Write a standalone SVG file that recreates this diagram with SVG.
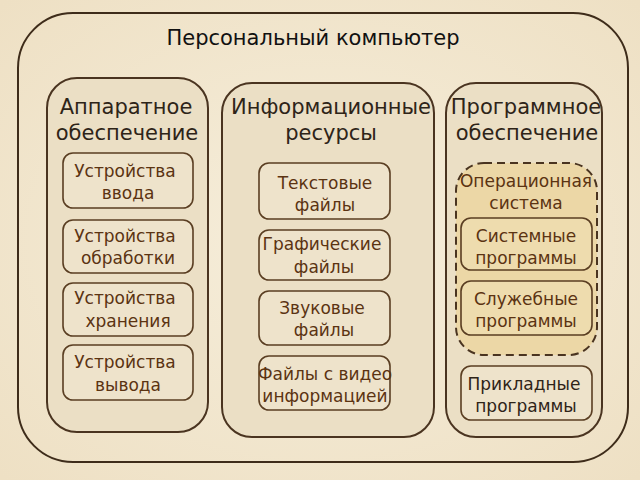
<svg xmlns="http://www.w3.org/2000/svg" width="640" height="480" viewBox="0 0 640 480">
<defs>
<radialGradient id="bg" cx="50%" cy="50%" r="70%">
<stop offset="0" stop-color="#f6eedb"/>
<stop offset="1" stop-color="#eee0c4"/>
</radialGradient>
<style>
.outer{fill:none;stroke:#3e2c1a;stroke-width:2}
.col{fill:#ebdfc5;stroke:#4a3420;stroke-width:2}
.box{fill:#eee3cb;stroke:#5a3e22;stroke-width:1.6}
.os{fill:#ecd7a6;stroke:#4a3420;stroke-width:2;stroke-dasharray:8,5}
.osbox{fill:#eedcae;stroke:#5a3e22;stroke-width:1.6}
.t{font-family:"DejaVu Sans","Noto Sans",sans-serif;text-anchor:middle}
.h{font-size:21px;fill:#2e2418}
.b{font-size:17px;fill:#5b3312}
</style>
</defs>
<rect width="640" height="480" fill="url(#bg)"/>
<g id="pc">
<rect class="outer" x="18" y="13" width="610" height="449" rx="55"/>
<text class="t" x="313" y="45" font-size="21" fill="#111">Персональный компьютер</text>
</g>
<g id="hardware">
<rect class="col" x="47" y="78" width="161" height="354" rx="30"/>
<text class="t h" x="126" y="114">Аппаратное</text>
<text class="t h" x="127" y="140">обеспечение</text>
</g>
<g id="info">
<rect class="col" x="222" y="83" width="212" height="354" rx="30"/>
<text class="t h" x="331" y="114">Информационные</text>
<text class="t h" x="331" y="140">ресурсы</text>
</g>
<g id="software">
<rect class="col" x="446" y="83" width="156" height="354" rx="30"/>
<text class="t h" x="526" y="114">Программное</text>
<text class="t h" x="527" y="140">обеспечение</text>
</g>
<g id="in"><rect class="box" x="63" y="153" width="130" height="55" rx="10"/><text class="t b" x="125" y="177">Устройства</text><text class="t b" x="128" y="199">ввода</text></g>
<g id="proc"><rect class="box" x="63" y="220" width="130" height="53" rx="10"/><text class="t b" x="125" y="242">Устройства</text><text class="t b" x="128" y="264">обработки</text></g>
<g id="store"><rect class="box" x="63" y="283" width="130" height="53" rx="10"/><text class="t b" x="125" y="304">Устройства</text><text class="t b" x="128" y="327">хранения</text></g>
<g id="out"><rect class="box" x="63" y="345" width="130" height="55" rx="10"/><text class="t b" x="125" y="368">Устройства</text><text class="t b" x="128" y="391">вывода</text></g>
<g id="text"><rect class="box" x="259" y="163" width="131" height="56" rx="10"/><text class="t b" x="325" y="189">Текстовые</text><text class="t b" x="325" y="211">файлы</text></g>
<g id="graph"><rect class="box" x="259" y="230" width="131" height="50" rx="10"/><text class="t b" x="322" y="250">Графические</text><text class="t b" x="324" y="273">файлы</text></g>
<g id="sound"><rect class="box" x="259" y="291" width="131" height="54" rx="10"/><text class="t b" x="322" y="314">Звуковые</text><text class="t b" x="324" y="336">файлы</text></g>
<g id="video"><rect class="box" x="259" y="356" width="131" height="54" rx="10"/><text class="t b" x="325" y="380">Файлы с видео</text><text class="t b" x="325" y="402">информацией</text></g>
<g id="os"><rect class="os" x="456" y="163" width="141" height="192" rx="28"/><text class="t b" x="526" y="187" fill="#2e2418">Операционная</text><text class="t b" x="526" y="209" fill="#2e2418">система</text></g>
<g id="sys"><rect class="osbox" x="461" y="218" width="131" height="52" rx="10"/><text class="t b" x="526" y="242">Системные</text><text class="t b" x="526" y="264">программы</text></g>
<g id="util"><rect class="osbox" x="461" y="281" width="131" height="54" rx="10"/><text class="t b" x="526" y="305">Служебные</text><text class="t b" x="526" y="327">программы</text></g>
<g id="app"><rect class="box" x="461" y="366" width="131" height="54" rx="10"/><text class="t" x="524" y="390" font-size="17" fill="#2e2418">Прикладные</text><text class="t" x="526" y="412" font-size="17" fill="#2e2418">программы</text></g>
<g id="connectors"/>
</svg>
